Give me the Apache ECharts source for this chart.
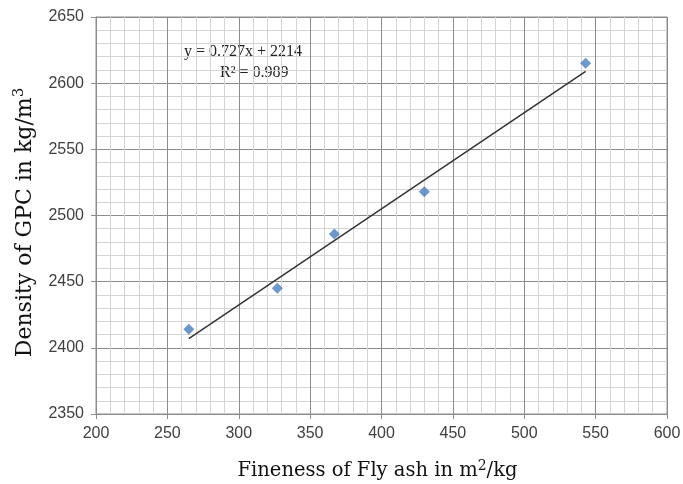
<!DOCTYPE html>
<html><head><meta charset="utf-8">
<script src="https://cdn.jsdelivr.net/npm/echarts@6/dist/echarts.min.js"></script>
<style>html,body{margin:0;padding:0;background:#fff}#c{width:683px;height:484px}</style>
</head><body><div id="c"></div>
<script>
const fineness = [265, 327, 367, 430, 543];
const density = [2414, 2445, 2486, 2518, 2615];
const trendX = [265, 543];
const trendY = [2407, 2609];
const xTitle = 'Fineness of Fly ash in m';
const yTitle = 'Density of GPC in kg/m';
const eqText = 'y = 0.727x + 2214';
const r2Text = 'R² = 0.989';

const chart = echarts.init(document.getElementById('c'), null, {renderer:'canvas'});
const serif = '"Liberation Serif","DejaVu Serif",serif';
const tserif = '"DejaVu Serif","Liberation Serif",serif';
const sans = '"Liberation Sans","DejaVu Sans",sans-serif';
const xRich = {t:{fontFamily:tserif,fontSize:19.5,color:'#111'},s:{fontFamily:tserif,fontSize:14,color:'#111',verticalAlign:'top',padding:[0,0,10,0]}};
const yRich = {t:{fontFamily:tserif,fontSize:22,color:'#111'},s:{fontFamily:tserif,fontSize:15,color:'#111',verticalAlign:'top',padding:[0,0,11,0]}};
chart.setOption({
  animation:false,
  backgroundColor:'#fff',
  grid:{left:96,right:16,top:17,bottom:70,show:true,borderColor:'#8c8c8c',borderWidth:1,outerBoundsMode:'none',containLabel:false},
  xAxis:{type:'value',min:200,max:600,interval:50,
    axisLine:{show:true,lineStyle:{color:'#8c8c8c'}},
    axisTick:{show:true,length:5,lineStyle:{color:'#8c8c8c'}},
    axisLabel:{color:'#404040',fontSize:16,fontFamily:sans,margin:12,formatter:v=>String(v)},
    splitLine:{show:true,lineStyle:{color:'#8c8c8c',width:1}},
    minorTick:{show:false,splitNumber:5},
    minorSplitLine:{show:true,lineStyle:{color:'#d4d4d4',width:1}},
    name:'{t|'+xTitle+'}{s|2}{t|/kg}',nameLocation:'middle',nameGap:45,
    nameTextStyle:{rich:xRich,padding:[0,8,0,0]}
  },
  yAxis:{type:'value',min:2350,max:2650,interval:50,
    axisLine:{show:true,lineStyle:{color:'#8c8c8c'}},
    axisTick:{show:true,length:5,lineStyle:{color:'#8c8c8c'}},
    axisLabel:{color:'#404040',fontSize:16,fontFamily:sans,margin:12,formatter:v=>String(v)},
    splitLine:{show:true,lineStyle:{color:'#8c8c8c',width:1}},
    minorTick:{show:false,splitNumber:5},
    minorSplitLine:{show:true,lineStyle:{color:'#d4d4d4',width:1}},
    name:'{t|'+yTitle+'}{s|3}',nameLocation:'middle',nameGap:58,
    nameTextStyle:{rich:yRich,padding:[0,14,0,0]}
  },
  series:[
    {type:'line',data:trendX.map((x,i)=>[x,trendY[i]]),symbol:'none',
      lineStyle:{color:'#333',width:1.5},z:3},
    {type:'scatter',data:fineness.map((x,i)=>[x,density[i]]),symbol:'diamond',symbolSize:11,
      itemStyle:{color:'#4a7ebb'},z:4}
  ],
  graphic:[
    {type:'text',left:184,top:44,style:{text:eqText,fontFamily:serif,fontSize:16,fill:'#222'}},
    {type:'text',left:220,top:65,style:{text:r2Text,fontFamily:serif,fontSize:16,fill:'#222'}}
  ]
});
</script></body></html>
